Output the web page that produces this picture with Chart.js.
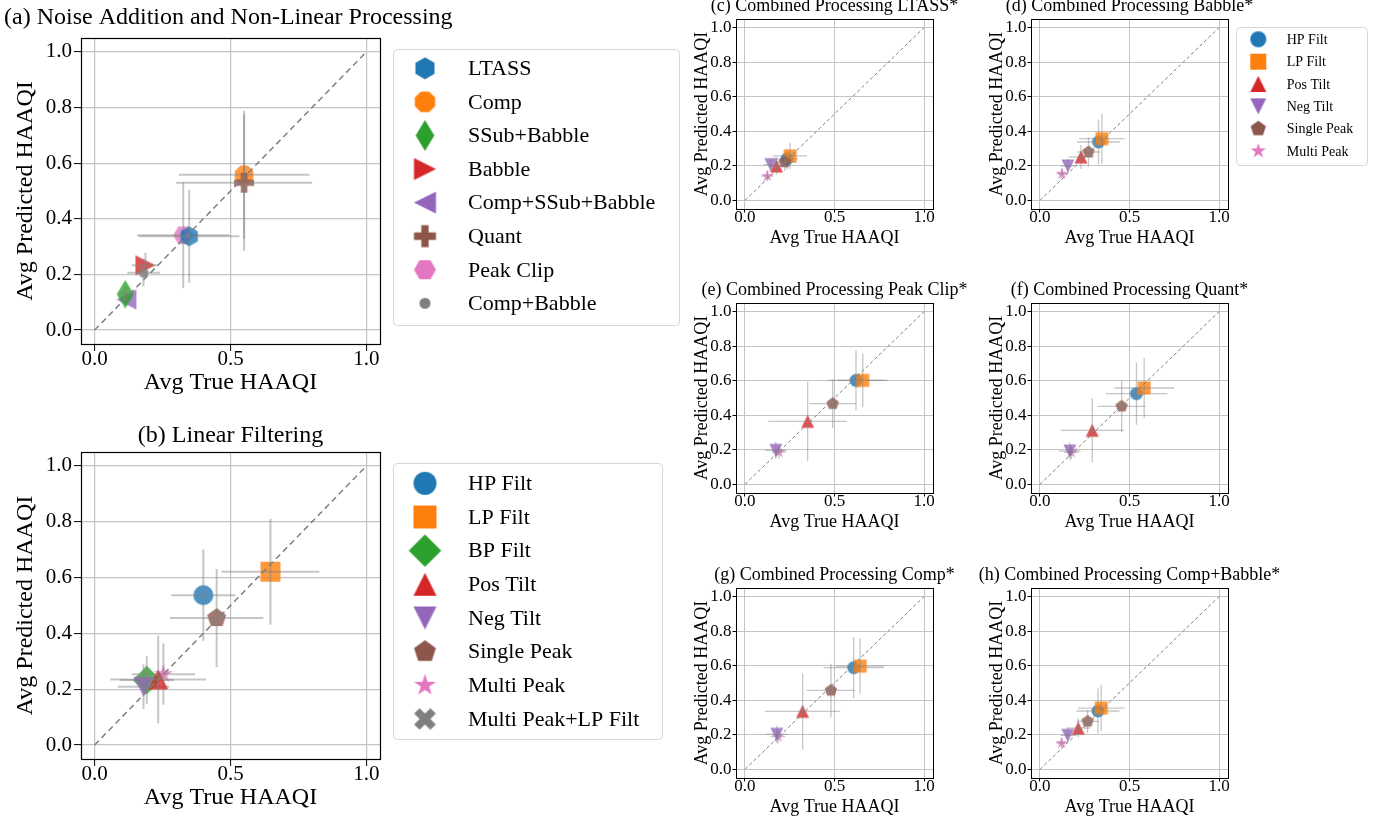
<!DOCTYPE html>
<html>
<head>
<meta charset="utf-8">
<title>Avg Predicted vs True HAAQI</title>
<script src="https://cdn.jsdelivr.net/npm/chart.js@4.4.1/dist/chart.umd.min.js"></script>
<style>
  html, body { margin: 0; padding: 0; background: #fff; }
  body { position: relative; width: 1387px; height: 820px; overflow: hidden; }
  canvas { position: absolute; }
</style>
</head>
<body>
<canvas id="panel-a"></canvas>
<canvas id="panel-b"></canvas>
<canvas id="panel-c"></canvas>
<canvas id="panel-d"></canvas>
<canvas id="panel-e"></canvas>
<canvas id="panel-f"></canvas>
<canvas id="panel-g"></canvas>
<canvas id="panel-h"></canvas>
<script>
// ---------- data ----------
const xTicks = [0, 0.5, 1.0];
const yTicks = [0, 0.2, 0.4, 0.6, 0.8, 1.0];
const diagX = [0, 1];
const diagY = [0, 1];

// (a) noise addition and non-linear processing
const aLabels = ['LTASS', 'Comp', 'SSub+Babble', 'Babble', 'Comp+SSub+Babble', 'Quant', 'Peak Clip', 'Comp+Babble'];
const aTrue = [0.348, 0.550, 0.113, 0.187, 0.117, 0.550, 0.326, 0.180];
const aPred = [0.337, 0.558, 0.129, 0.233, 0.110, 0.530, 0.341, 0.206];
const aTrueErr = [0.185, 0.240, 0.020, 0.050, 0.020, 0.250, 0.170, 0.060];
const aPredErr = [0.167, 0.230, 0.025, 0.045, 0.020, 0.245, 0.190, 0.050];

// (b) linear filtering
const bLabels = ['HP Filt', 'LP Filt', 'BP Filt', 'Pos Tilt', 'Neg Tilt', 'Single Peak', 'Multi Peak', 'Multi Peak+LP Filt'];
const bTrue = [0.400, 0.647, 0.192, 0.234, 0.180, 0.449, 0.253, null];
const bPred = [0.537, 0.621, 0.233, 0.235, 0.209, 0.455, 0.254, null];
const bTrueErr = [0.118, 0.180, 0.100, 0.176, 0.095, 0.172, 0.117, null];
const bPredErr = [0.164, 0.190, 0.085, 0.157, 0.080, 0.176, 0.110, null];

// (c)-(h) combined processing, same six filters
const comboLabels = ['HP Filt', 'LP Filt', 'Pos Tilt', 'Neg Tilt', 'Single Peak', 'Multi Peak'];

const cTrue = [0.235, 0.252, 0.176, 0.144, 0.222, 0.125];
const cPred = [0.240, 0.257, 0.199, 0.207, 0.222, 0.141];
const cTrueErr = [0.060, 0.095, 0.045, 0.040, 0.060, 0.035];
const cPredErr = [0.060, 0.077, 0.050, 0.035, 0.050, 0.030];

const dTrue = [0.327, 0.346, 0.229, 0.156, 0.271, 0.123];
const dPred = [0.338, 0.357, 0.251, 0.199, 0.280, 0.154];
const dTrueErr = [0.120, 0.127, 0.070, 0.040, 0.065, 0.030];
const dPredErr = [0.130, 0.145, 0.070, 0.040, 0.085, 0.030];

const eTrue = [0.620, 0.658, 0.350, 0.172, 0.490, 0.190];
const ePred = [0.602, 0.602, 0.365, 0.197, 0.467, 0.187];
const eTrueErr = [0.155, 0.140, 0.220, 0.060, 0.130, 0.040];
const ePredErr = [0.175, 0.155, 0.229, 0.050, 0.140, 0.040];

const fTrue = [0.539, 0.582, 0.292, 0.167, 0.456, 0.175];
const fPred = [0.525, 0.558, 0.313, 0.193, 0.452, 0.185];
const fTrueErr = [0.172, 0.167, 0.177, 0.060, 0.135, 0.040];
const fPredErr = [0.180, 0.174, 0.185, 0.050, 0.150, 0.040];

const gTrue = [0.607, 0.643, 0.322, 0.178, 0.480, 0.185];
const gPred = [0.589, 0.598, 0.336, 0.203, 0.457, 0.190];
const gTrueErr = [0.168, 0.135, 0.210, 0.060, 0.135, 0.040];
const gPredErr = [0.178, 0.160, 0.220, 0.050, 0.155, 0.040];

const hTrue = [0.324, 0.342, 0.214, 0.155, 0.266, 0.121];
const hPred = [0.338, 0.355, 0.239, 0.197, 0.278, 0.152];
const hTrueErr = [0.120, 0.130, 0.065, 0.040, 0.062, 0.030];
const hPredErr = [0.130, 0.135, 0.055, 0.040, 0.065, 0.030];

// ---------- styles ----------
const BLUE = '#1f77b4', ORANGE = '#ff7f0e', GREEN = '#2ca02c', RED = '#d62728',
      PURPLE = '#9467bd', BROWN = '#8c564b', PINK = '#e377c2', GRAY = '#7f7f7f';
const aMarkers = ['h', '8', 'd', '>', '<', 'P', 'H', '.'];
const aColors = [BLUE, ORANGE, GREEN, RED, PURPLE, BROWN, PINK, GRAY];
const aZ = [7, 1, 5, 3, 4, 6, 2, 8];          // stacking rank, higher sits on top
const bMarkers = ['o', 's', 'D', '^', 'v', 'p', '*', 'X'];
const bColors = [BLUE, ORANGE, GREEN, RED, PURPLE, BROWN, PINK, GRAY];
const bZ = [1, 2, 3, 6, 5, 7, 4, 8];
const comboMarkers = ['o', 's', '^', 'v', 'p', '*'];
const comboColors = [BLUE, ORANGE, RED, PURPLE, BROWN, PINK];
const comboZ = [2, 3, 4, 5, 6, 1];

const SERIF = "'Liberation Serif', 'Times New Roman', 'DejaVu Serif', serif";
Chart.defaults.font.family = SERIF;
Chart.defaults.color = '#000';

const BIG = {
    yAxisW: 81, xAxisH: 56, tickFont: 21, labelFont: 24, titleFont: 24, legendFont: 22,
    tickLen: 7, yTickPad: 2, xTickPad: -2, yTitlePad: 11, xTitlePad: 3,
    grid: 1.2, frame: 1.2, err: 2, dash: [6, 4], diagW: 1.5, ms: 20
};
const SMALL = {
    yAxisW: 46, xAxisH: 42, tickFont: 17, labelFont: 18, titleFont: 18, legendFont: 14,
    tickLen: 3.5, yTickPad: 1, xTickPad: -3, yTitlePad: 1, xTitlePad: 2,
    grid: 1, frame: 1, err: 1.3, dash: [3.5, 2.5], diagW: 1, ms: 13
};

// Draw a matplotlib-like marker into a small canvas used as pointStyle
function markerCanvas(shape, color, s, alpha) {
    const r = s / 2;
    const dim = Math.ceil(s * 1.5) + 4;
    const c = document.createElement('canvas');
    c.width = c.height = dim;
    const ctx = c.getContext('2d');
    ctx.translate(dim / 2, dim / 2);
    ctx.globalAlpha = alpha;
    ctx.fillStyle = color;
    ctx.beginPath();

    function poly(pts) {
        pts.forEach((p, k) => k ? ctx.lineTo(p[0], p[1]) : ctx.moveTo(p[0], p[1]));
        ctx.closePath();
    }
    function regular(n, rad, startDeg) {
        const pts = [];
        for (let k = 0; k < n; k++) {
            const a = (startDeg + k * 360 / n) * Math.PI / 180;
            pts.push([rad * Math.cos(a), rad * Math.sin(a)]);
        }
        poly(pts);
    }
    function plus() {
        const h = r / 3;
        poly([[-h, -r], [h, -r], [h, -h], [r, -h], [r, h], [h, h], [h, r], [-h, r],
              [-h, h], [-r, h], [-r, -h], [-h, -h]]);
    }

    const q = r * Math.SQRT2;
    switch (shape) {
        case 'o': ctx.arc(0, 0, r, 0, Math.PI * 2); break;
        case '.': ctx.arc(0, 0, r / 2, 0, Math.PI * 2); break;
        case 's': ctx.rect(-r, -r, s, s); break;
        case 'D': poly([[0, -q], [q, 0], [0, q], [-q, 0]]); break;
        case 'd': poly([[0, -q], [0.6 * q, 0], [0, q], [-0.6 * q, 0]]); break;
        case '^': poly([[0, -r], [r, r], [-r, r]]); break;
        case 'v': poly([[0, r], [r, -r], [-r, -r]]); break;
        case '>': poly([[r, 0], [-r, -r], [-r, r]]); break;
        case '<': poly([[-r, 0], [r, -r], [r, r]]); break;
        case 'h': regular(6, r, -90); break;
        case 'H': regular(6, r, 0); break;
        case '8': regular(8, r, 22.5); break;
        case 'p': regular(5, r, -90); break;
        case '*': {
            const pts = [];
            for (let k = 0; k < 10; k++) {
                const a = (-90 + k * 36) * Math.PI / 180;
                const rad = k % 2 ? r * 0.381966 : r;
                pts.push([rad * Math.cos(a), rad * Math.sin(a)]);
            }
            poly(pts);
            break;
        }
        case 'P': plus(); break;
        case 'X': ctx.rotate(Math.PI / 4); plus(); break;
    }
    ctx.fill();
    return c;
}

// Error bars drawn from each dataset's xerr / yerr through the chart scales
const errorBars = {
    id: 'errorBars',
    afterDatasetDraw(chart, args, opts) {
        const ds = chart.data.datasets[args.index];
        if (ds.xerr == null) return;
        const xs = chart.scales.x, ys = chart.scales.y;
        const ctx = chart.ctx;
        ctx.save();
        ctx.strokeStyle = opts.color;
        ctx.lineWidth = opts.width;
        ds.data.forEach(p => {
            const cx = xs.getPixelForValue(p.x), cy = ys.getPixelForValue(p.y);
            ctx.beginPath();
            ctx.moveTo(xs.getPixelForValue(p.x - ds.xerr), cy);
            ctx.lineTo(xs.getPixelForValue(p.x + ds.xerr), cy);
            ctx.stroke();
            ctx.beginPath();
            ctx.moveTo(cx, ys.getPixelForValue(p.y - ds.yerr));
            ctx.lineTo(cx, ys.getPixelForValue(p.y + ds.yerr));
            ctx.stroke();
        });
        ctx.restore();
    }
};

// Axes frame, panel title and boxed legend
const panelDeco = {
    id: 'panelDeco',
    afterDraw(chart, args, o) {
        const ctx = chart.ctx;
        const a = chart.chartArea;
        ctx.save();
        ctx.strokeStyle = '#000';
        ctx.lineWidth = o.frame;
        ctx.strokeRect(Math.round(a.left) + 0.5, Math.round(a.top) + 0.5,
                       Math.round(a.right - a.left), Math.round(a.bottom - a.top));

        // title
        ctx.fillStyle = '#000';
        ctx.font = o.titleFont + 'px ' + SERIF;
        ctx.textBaseline = 'middle';
        ctx.textAlign = o.title.align;
        const tx = o.title.align === 'center' ? (a.left + a.right) / 2 : o.title.x - o.ox;
        ctx.fillText(o.title.text, tx, o.title.y - o.oy);

        // legend
        const L = o.legend;
        if (L) {
            const x = L.x - o.ox, y = L.y - o.oy;
            ctx.beginPath();
            ctx.roundRect(x + 0.5, y + 0.5, L.w, L.h, 4);
            ctx.fillStyle = 'rgba(255,255,255,0.8)';
            ctx.fill();
            ctx.strokeStyle = '#d6d6d6';
            ctx.lineWidth = 1;
            ctx.stroke();
            ctx.font = o.legendFont + 'px ' + SERIF;
            ctx.textAlign = 'left';
            ctx.fillStyle = '#000';
            L.labels.forEach((lab, k) => {
                const cy = L.row0 + k * L.dy - o.oy;
                const m = L.marks[k];
                ctx.drawImage(m, L.mx - o.ox - m.width / 2, cy - m.height / 2);
                ctx.fillText(lab, L.tx - o.ox, cy + 1);
            });
        }
        ctx.restore();
    }
};

function makePanel(id, p) {
    const st = p.big ? BIG : SMALL;
    const [al, at, ar, ab] = p.area;
    const cv = document.getElementById(id);
    cv.width = p.w;
    cv.height = p.h;
    cv.style.left = p.left + 'px';
    cv.style.top = p.top + 'px';

    const datasets = p.labels.map((lab, i) => ({
        label: lab,
        data: p.x[i] == null ? [] : [{ x: p.x[i], y: p.y[i] }],
        xerr: p.xerr[i],
        yerr: p.yerr[i],
        pointStyle: markerCanvas(p.markers[i], p.colors[i], st.ms, 0.8),
        pointRadius: 8,
        order: -p.z[i]
    }));
    datasets.push({
        label: 'y = x',
        data: diagX.map((v, k) => ({ x: v, y: diagY[k] })),
        showLine: true,
        borderColor: '#7f7f7f',
        borderWidth: st.diagW,
        borderDash: st.dash,
        pointRadius: 0,
        order: -100
    });

    let legend = null;
    if (p.legend) {
        legend = Object.assign({}, p.legend, {
            labels: p.labels,
            marks: p.labels.map((lab, i) => markerCanvas(p.markers[i], p.colors[i], p.legend.ms, 1))
        });
    }

    const tickFont = { family: SERIF, size: st.tickFont, lineHeight: 1 };
    const labelFont = { family: SERIF, size: st.labelFont };
    const grid = { color: '#c4c4c4', lineWidth: st.grid, tickColor: '#000', tickLength: st.tickLen, tickWidth: 1 };

    new Chart(cv, {
        type: 'scatter',
        data: { datasets },
        options: {
            responsive: false,
            animation: false,
            events: [],
            layout: {
                padding: {
                    left: al - p.left - st.yAxisW,
                    top: at - p.top,
                    right: p.left + p.w - ar,
                    bottom: p.top + p.h - ab - st.xAxisH
                }
            },
            plugins: {
                legend: { display: false },
                tooltip: { enabled: false },
                errorBars: { color: 'rgba(128,128,128,0.45)', width: st.err },
                panelDeco: {
                    ox: p.left, oy: p.top, frame: st.frame,
                    titleFont: st.titleFont, legendFont: st.legendFont,
                    title: p.title, legend: legend
                }
            },
            scales: {
                x: {
                    type: 'linear', min: -0.05, max: 1.05,
                    afterBuildTicks: s => { s.ticks = xTicks.map(v => ({ value: v })); },
                    afterFit: s => { s.height = st.xAxisH; },
                    ticks: { callback: v => v.toFixed(1), font: tickFont, color: '#000',
                             padding: st.xTickPad, maxRotation: 0, autoSkip: false },
                    grid: grid,
                    border: { display: false },
                    title: { display: true, text: 'Avg True HAAQI', font: labelFont, color: '#000',
                             padding: { top: 0, bottom: st.xTitlePad } }
                },
                y: {
                    type: 'linear', min: -0.05, max: 1.05,
                    afterBuildTicks: s => { s.ticks = yTicks.map(v => ({ value: v })); },
                    afterFit: s => { s.width = st.yAxisW; },
                    ticks: { callback: v => v.toFixed(1), font: tickFont, color: '#000',
                             padding: st.yTickPad, autoSkip: false },
                    grid: grid,
                    border: { display: false },
                    title: { display: true, text: 'Avg Predicted HAAQI', font: labelFont, color: '#000',
                             padding: { top: st.yTitlePad, bottom: 0 } }
                }
            }
        },
        plugins: [errorBars, panelDeco]
    });
}

// ---------- panels ----------
makePanel('panel-a', {
    big: true, left: 0, top: 0, w: 688, h: 410, area: [81, 38, 380, 344],
    labels: aLabels, x: aTrue, y: aPred, xerr: aTrueErr, yerr: aPredErr,
    markers: aMarkers, colors: aColors, z: aZ,
    title: { text: '(a) Noise Addition and Non-Linear Processing', align: 'left', x: 4, y: 18 },
    legend: { x: 393, y: 49, w: 286, h: 276, row0: 68.3, dy: 33.57, mx: 425, tx: 468, ms: 22 }
});

makePanel('panel-b', {
    big: true, left: 0, top: 410, w: 688, h: 410, area: [81, 452, 380, 759],
    labels: bLabels, x: bTrue, y: bPred, xerr: bTrueErr, yerr: bPredErr,
    markers: bMarkers, colors: bColors, z: bZ,
    title: { text: '(b) Linear Filtering', align: 'center', y: 436 },
    legend: { x: 393, y: 463, w: 269, h: 276, row0: 483.3, dy: 33.67, mx: 425, tx: 468, ms: 23 }
});

const smallPanels = [
    ['panel-c', 736, 19, '(c) Combined Processing LTASS*', cTrue, cPred, cTrueErr, cPredErr],
    ['panel-d', 1031, 19, '(d) Combined Processing Babble*', dTrue, dPred, dTrueErr, dPredErr],
    ['panel-e', 736, 303, '(e) Combined Processing Peak Clip*', eTrue, ePred, eTrueErr, ePredErr],
    ['panel-f', 1031, 303, '(f) Combined Processing Quant*', fTrue, fPred, fTrueErr, fPredErr],
    ['panel-g', 736, 588, '(g) Combined Processing Comp*', gTrue, gPred, gTrueErr, gPredErr],
    ['panel-h', 1031, 588, '(h) Combined Processing Comp+Babble*', hTrue, hPred, hTrueErr, hPredErr]
];

smallPanels.forEach(([id, al, at, title, xs, ys, xe, ye]) => {
    const ar = al + 197, ab = at + 190;
    const left = al - 80;
    const withLegend = id === 'panel-d';
    makePanel(id, {
        big: false,
        left: left, top: at - 45,
        w: al > 1000 ? 1387 - left : 1010 - left,
        h: 190 + 45 + 45,
        area: [al, at, ar, ab],
        labels: comboLabels, x: xs, y: ys, xerr: xe, yerr: ye,
        markers: comboMarkers, colors: comboColors, z: comboZ,
        title: { text: title, align: 'center', y: at - 12.5 },
        legend: withLegend
            ? { x: 1236, y: 27, w: 131, h: 138, row0: 39.3, dy: 22.34, mx: 1258.3, tx: 1286.7, ms: 16 }
            : null
    });
});
</script>
</body>
</html>
